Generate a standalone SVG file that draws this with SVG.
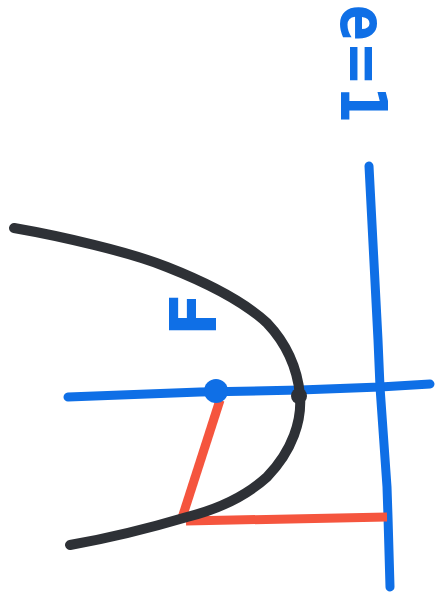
<svg xmlns="http://www.w3.org/2000/svg" width="436" height="600" viewBox="0 0 436 600">
  <style>
    .blue { stroke: #0f6fe6; stroke-width: 9; fill: none; stroke-linecap: round; stroke-linejoin: round; }
    .black { stroke: #2e3136; stroke-width: 10; fill: none; stroke-linecap: round; stroke-linejoin: round; }
    .red { stroke: #f5553e; stroke-width: 9; fill: none; stroke-linecap: butt; }
    .lbl { font-family: "DejaVu Sans", "Liberation Sans", sans-serif; font-weight: bold; fill: #0f6fe6; }
  </style>
  <rect width="436" height="600" fill="#ffffff"/>
  <g id="connectors">
    <path id="axis" class="blue" d="M68,397 L200,392 L300,390 L380,387 L430,384"/>
    <path id="directrix" class="blue" d="M369,166 L378,340 L380,387 L387,487 L388,517 L390,587"/>
    <path id="focus-to-point" class="red" d="M220,400 L182,518"/>
    <path id="point-to-directrix" class="red" d="M186,521 L387,517"/>
    <path id="parabola" class="black" d="M14,228 C60,236 130,252 167,267 C200,280 240,298 267,323 C285,342 297,365 300,395 C302,420 293,450 267,477 C245,497 215,510 187,517 C150,528 110,538 70,545"/>
  </g>
  <g id="focus">
    <circle cx="216" cy="391" r="12" fill="#0f6fe6"/>
  </g>
  <g id="vertex">
    <circle cx="299" cy="396" r="8" fill="#2e3136"/>
  </g>
  <g id="label-F">
    <text class="lbl" font-size="64" transform="translate(216,336) rotate(-90)">F</text>
  </g>
  <g id="label-e">
    <text class="lbl" font-size="64" textLength="118" lengthAdjust="spacingAndGlyphs" transform="translate(341,5) rotate(90)">e=1</text>
  </g>
</svg>
